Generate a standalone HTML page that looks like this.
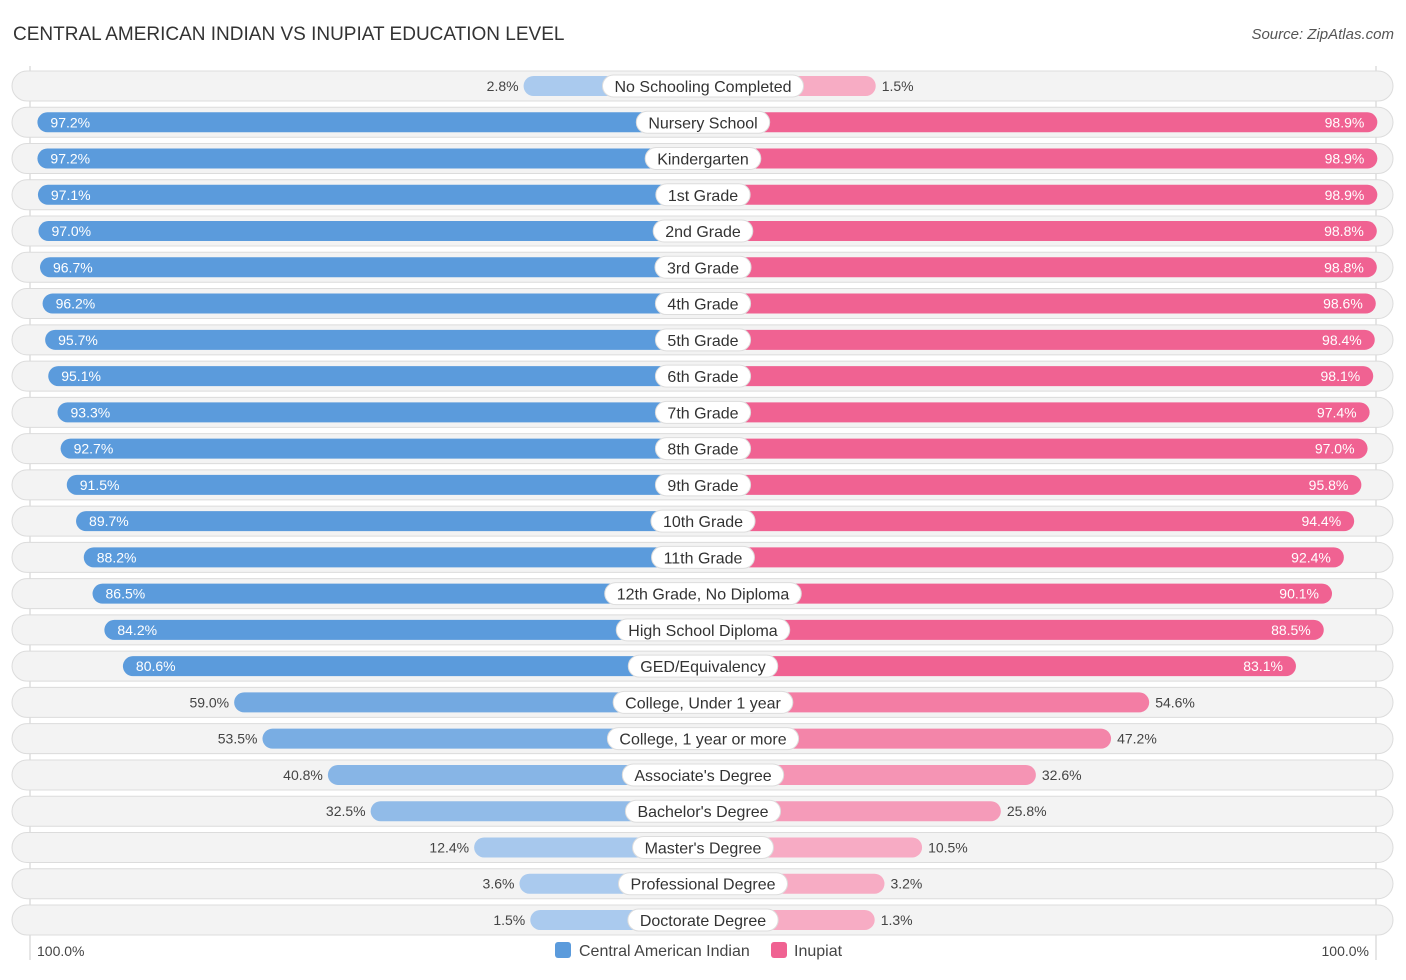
<!DOCTYPE html>
<html><head><meta charset="utf-8"><style>
body{margin:0;background:#fff;font-family:"Liberation Sans",sans-serif;}
svg text{font-family:"Liberation Sans",sans-serif;}
</style></head><body>
<svg id="c" width="1406" height="975">
<text x="13" y="40" font-size="19" fill="#333">CENTRAL AMERICAN INDIAN VS INUPIAT EDUCATION LEVEL</text>
<text x="1394" y="39" font-size="15" fill="#555" font-style="italic" text-anchor="end">Source: ZipAtlas.com</text>
<line x1="30" y1="66" x2="30" y2="960" stroke="#ccc"/>
<line x1="1376" y1="66" x2="1376" y2="960" stroke="#ccc"/>
<g id="rows"></g>
<text x="37" y="956" font-size="14" fill="#444">100.0%</text>
<text x="1369" y="956" font-size="14" fill="#444" text-anchor="end">100.0%</text>
<rect x="555" y="942" width="16" height="16" rx="3" fill="#5b9bdc"/>
<text x="579" y="956" font-size="16" fill="#444">Central American Indian</text>
<rect x="771" y="942" width="16" height="16" rx="3" fill="#f06292"/>
<text x="794" y="956" font-size="16" fill="#444">Inupiat</text>
</svg>
<script>
const categories=["No Schooling Completed","Nursery School","Kindergarten","1st Grade","2nd Grade","3rd Grade","4th Grade","5th Grade","6th Grade","7th Grade","8th Grade","9th Grade","10th Grade","11th Grade","12th Grade, No Diploma","High School Diploma","GED/Equivalency","College, Under 1 year","College, 1 year or more","Associate's Degree","Bachelor's Degree","Master's Degree","Professional Degree","Doctorate Degree"];
const centralAmericanIndian=[2.8,97.2,97.2,97.1,97.0,96.7,96.2,95.7,95.1,93.3,92.7,91.5,89.7,88.2,86.5,84.2,80.6,59.0,53.5,40.8,32.5,12.4,3.6,1.5];
const inupiat=[1.5,98.9,98.9,98.9,98.8,98.8,98.6,98.4,98.1,97.4,97.0,95.8,94.4,92.4,90.1,88.5,83.1,54.6,47.2,32.6,25.8,10.5,3.2,1.3];
const NS="http://www.w3.org/2000/svg";
const g=document.getElementById('rows');
const cx=703, y0=86, dy=36.26;
function len(v){return 165+5.15*v;}
function mix(a,b,t){return 'rgb('+a.map((x,i)=>Math.round(x+(b[i]-x)*t)).join(',')+')';}
function blue(v){return mix([170,202,238],[91,155,220],Math.min(1,Math.max(0,(v-10)/70)));}
function pink(v){return mix([247,172,196],[240,98,146],Math.min(1,Math.max(0,(v-10)/70)));}
function mk(tag,attrs){const e=document.createElementNS(NS,tag);for(const k in attrs)e.setAttribute(k,attrs[k]);g.appendChild(e);return e;}
categories.forEach((cat,i)=>{
  const y=y0+i*dy;
  const bg=mk('rect',{x:12,y:y-15,width:1381,height:30,rx:15,fill:'#f3f3f3',stroke:'#dcdcdc'});
  
  
  const a=centralAmericanIndian[i], b=inupiat[i];
  const la=len(a), lb=len(b);
  const r1=mk('rect',{x:cx-la,y:y-10,width:la,height:20,rx:10,fill:blue(a)});
  
  
  const r2=mk('rect',{x:cx,y:y-10,width:lb,height:20,rx:10,fill:pink(b)});
  
  
  const inA=a>70, inB=b>70;
  const t1=mk('text',{x:inA?cx-la+13:cx-la-5,y:y+5,'font-size':14,fill:inA?'#fff':'#444','text-anchor':inA?'start':'end'});
  t1.textContent=a.toFixed(1)+'%';
  
  
  const t2=mk('text',{x:inB?cx+lb-13:cx+lb+6,y:y+5,'font-size':14,fill:inB?'#fff':'#444','text-anchor':inB?'end':'start'});
  t2.textContent=b.toFixed(1)+'%';
  
  
  const lt=mk('text',{x:cx,y:y+6,'font-size':16,fill:'#333','text-anchor':'middle'});
  lt.textContent=cat;
  const w=lt.getComputedTextLength()+24;
  const lb2=mk('rect',{x:cx-w/2,y:y-11,width:w,height:22,rx:11,fill:'#fff',stroke:'#ddd'});
  
  
  g.appendChild(lt);
  
  
});
</script>
</body></html>
